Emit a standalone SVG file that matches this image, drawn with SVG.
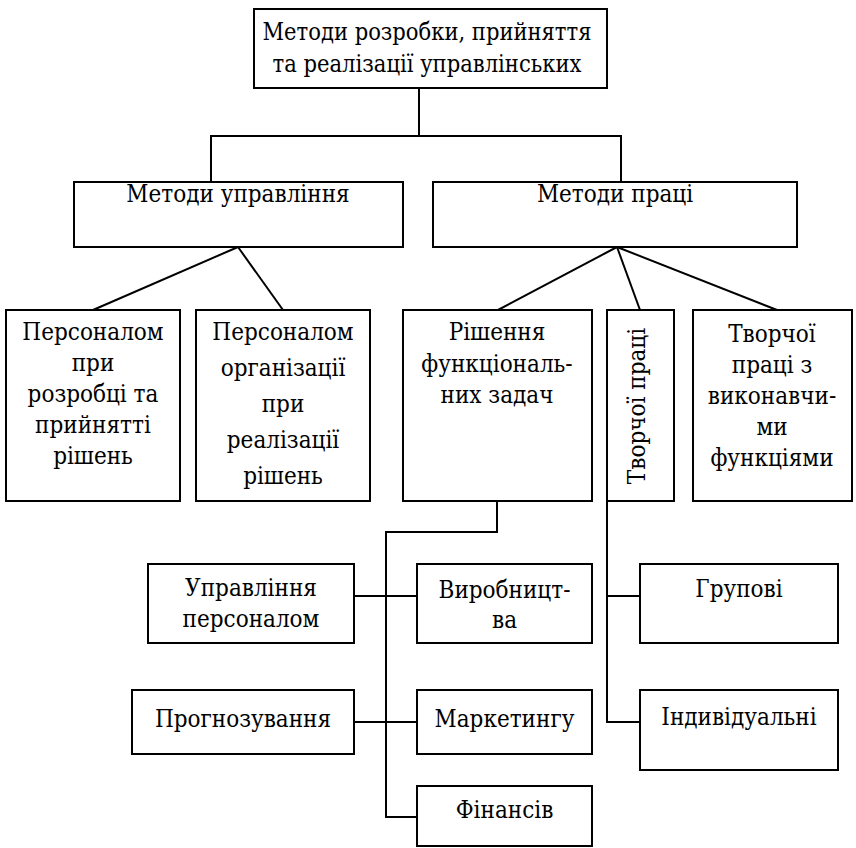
<svg xmlns="http://www.w3.org/2000/svg" width="856" height="848" viewBox="0 0 856 848">
<style>
rect{fill:#fff;stroke:#000;stroke-width:2}
.c line,.c polyline{stroke:#000;stroke-width:2;fill:none}
text{font-size:24px;fill:#000;text-anchor:middle}
.t{font-family:'DejaVu Serif Condensed','DejaVu Serif',serif;font-stretch:condensed}
</style>
<g class="c" id="connectors">
<line x1="419" y1="88" x2="419" y2="136"/>
<polyline points="211,182 211,136 621,136 621,182"/>
<line x1="238" y1="247" x2="93" y2="310"/>
<line x1="238" y1="247" x2="283" y2="310"/>
<line x1="617" y1="247" x2="498" y2="310"/>
<line x1="617" y1="247" x2="640" y2="310"/>
<line x1="617" y1="247" x2="777" y2="310"/>
<polyline points="497,501 497,532 386,532 386,817 417,817"/>
<line x1="354" y1="596" x2="417" y2="596"/>
<line x1="354" y1="722" x2="417" y2="722"/>
<polyline points="607,501 607,722 640,722"/>
<line x1="607" y1="596" x2="640" y2="596"/>
</g>
<g class="t">
<g id="n-root"><rect x="254" y="9" width="353" height="79"/>
<text x="427" y="40" textLength="329" lengthAdjust="spacingAndGlyphs">Методи розробки, прийняття</text><text x="427" y="72" textLength="309" lengthAdjust="spacingAndGlyphs">та реалізації управлінських</text></g>
<g id="n-upr"><rect x="74" y="182" width="329" height="65"/><text x="238" y="202">Методи управління</text></g>
<g id="n-pr"><rect x="433" y="182" width="364" height="65"/><text x="615" y="202">Методи праці</text></g>
<g id="n-p1"><rect x="6" y="310" width="174" height="191"/>
<text x="93" y="340">Персоналом</text><text x="93" y="371">при</text><text x="93" y="402">розробці та</text><text x="93" y="433">прийнятті</text><text x="93" y="464">рішень</text></g>
<g id="n-p2"><rect x="196" y="310" width="174" height="191"/>
<text x="283" y="340">Персоналом</text><text x="283" y="376">організації</text><text x="283" y="412">при</text><text x="283" y="448">реалізації</text><text x="283" y="484">рішень</text></g>
<g id="n-rf"><rect x="403" y="310" width="189" height="191"/>
<text x="497" y="340">Рішення</text><text x="497" y="372">функціональ-</text><text x="497" y="403">них задач</text></g>
<g id="n-tp"><rect x="607" y="310" width="67" height="191"/>
<text transform="translate(645,406) rotate(-90)" x="0" y="0">Творчої праці</text></g>
<g id="n-tpv"><rect x="693" y="310" width="159" height="191"/>
<text x="772" y="342">Творчої</text><text x="772" y="373">праці з</text><text x="772" y="404">виконавчи-</text><text x="772" y="435">ми</text><text x="772" y="466">функціями</text></g>
<g id="n-up"><rect x="148" y="564" width="206" height="79"/><text x="251" y="596">Управління</text><text x="251" y="627">персоналом</text></g>
<g id="n-vyr"><rect x="417" y="564" width="175" height="79"/><text x="504.5" y="598">Виробницт-</text><text x="504.5" y="628">ва</text></g>
<g id="n-prog"><rect x="132" y="690" width="222" height="64"/><text x="243" y="727">Прогнозування</text></g>
<g id="n-mark"><rect x="417" y="690" width="175" height="64"/><text x="504.5" y="727">Маркетингу</text></g>
<g id="n-fin"><rect x="417" y="786" width="175" height="60"/><text x="504.5" y="818">Фінансів</text></g>
<g id="n-grup"><rect x="640" y="564" width="198" height="79"/><text x="739" y="597">Групові</text></g>
<g id="n-ind"><rect x="640" y="690" width="198" height="80"/><text x="739" y="725">Індивідуальні</text></g>
</g>
</svg>
